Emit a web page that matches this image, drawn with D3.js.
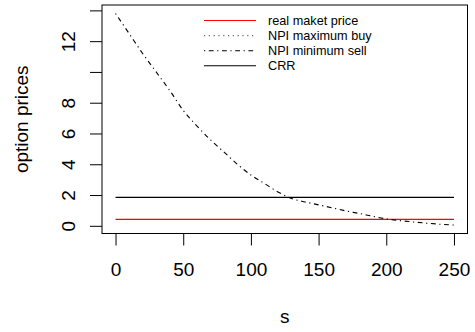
<!DOCTYPE html>
<html><head><meta charset="utf-8">
<script src="https://cdn.jsdelivr.net/npm/d3@7"></script>
<style>body{margin:0;background:#fff}svg{display:block;font-family:"Liberation Sans",Arial,sans-serif}</style>
</head><body>
<script>
const sValues = [0,10,20,30,40,50,60,70,80,90,100,110,120,130,140,150,160,170,180,190,200,210,220,230,240,250];
const minSell = [13.8,12.5,11.2,10.0,8.8,7.5,6.5,5.6,4.8,4.0,3.3,2.75,2.2,1.78,1.55,1.36,1.17,0.97,0.8,0.62,0.45,0.34,0.25,0.17,0.1,0.05];
const marketPrice = 0.42;
const crrPrice = 1.85;
const xTicks = [0,50,100,150,200,250];
const yTicks = [0,2,4,6,8,10,12,14];
const yTickLabels = ["0","2","4","6","8","","12",""];
const legendLabels = ["real maket price","NPI maximum buy","NPI minimum sell","CRR"];
const legendColors = ["#ff0000","#666","#000","#000"];
const legendDash = [null,"1.2,3.6","1.2,3.6,4.8,3.6",null];

const W=475,H=332;
const L=102,R=467.5,T=5,B=233.5;
const FS=19;
const svg=d3.select("body").append("svg").attr("width",W).attr("height",H);
const x=d3.scaleLinear().domain([-10,260]).range([L,R]);
const yMin=0.05, yMax=13.8, pad=(yMax-yMin)*0.04;
const y=d3.scaleLinear().domain([yMin-pad,yMax+pad]).range([B,T]);

// lines
svg.append("line").attr("x1",x(0)).attr("x2",x(250)).attr("y1",y(crrPrice)).attr("y2",y(crrPrice)).attr("stroke","#000").attr("stroke-width",1.1);
svg.append("line").attr("x1",x(0)).attr("x2",x(250)).attr("y1",y(marketPrice)).attr("y2",y(marketPrice)).attr("stroke","#ff0000").attr("stroke-width",1.1);
const line=d3.line().x((d,i)=>x(sValues[i])).y(d=>y(d)).curve(d3.curveMonotoneX);
svg.append("path").attr("d",line(minSell)).attr("fill","none").attr("stroke","#000").attr("stroke-width",1.1).attr("stroke-dasharray","1.2,3.6,4.8,3.6");

// box
svg.append("rect").attr("x",L).attr("y",T).attr("width",R-L).attr("height",B-T).attr("fill","none").attr("stroke","#000").attr("stroke-width",1);

// x axis
const xa=svg.append("g").attr("transform",`translate(0,${B})`).call(d3.axisBottom(x).tickValues(xTicks).tickSize(12).tickPadding(17.5).tickSizeOuter(0));
xa.select(".domain").remove();
xa.selectAll("text").attr("font-size",FS).attr("font-family","Liberation Sans, Arial, sans-serif").attr("fill","#000");
xa.selectAll("line").attr("stroke","#000");
// y axis
const ya=svg.append("g").attr("transform",`translate(${L},0)`).call(d3.axisLeft(y).tickValues(yTicks).tickFormat((d,i)=>yTickLabels[i]).tickSize(12).tickSizeOuter(0));
ya.select(".domain").remove();
ya.selectAll("line").attr("stroke","#000");
ya.selectAll("text").attr("font-size",FS).attr("font-family","Liberation Sans, Arial, sans-serif").attr("fill","#000")
  .attr("x",null).attr("dy",null).attr("text-anchor","middle")
  .attr("transform","translate(-34,0) rotate(-90)").attr("dominant-baseline","central");

// axis titles
svg.append("text").attr("x",x(125)).attr("y",323).attr("text-anchor","middle").attr("font-size",FS).text("s");
svg.append("text").attr("transform",`translate(28,${(T+B)/2}) rotate(-90)`).attr("text-anchor","middle").attr("font-size",FS).text("option prices");

// legend
const lg=svg.append("g");
legendLabels.forEach((t,i)=>{
  const yy=20.5+i*15.1;
  const ln=lg.append("line").attr("x1",204).attr("x2",256).attr("y1",yy).attr("y2",yy).attr("stroke",legendColors[i]).attr("stroke-width",1.1);
  if(legendDash[i]) ln.attr("stroke-dasharray",legendDash[i]);
  lg.append("text").attr("x",268).attr("y",yy).attr("dominant-baseline","central").attr("font-size",12.7).text(t);
});
</script>
</body></html>
